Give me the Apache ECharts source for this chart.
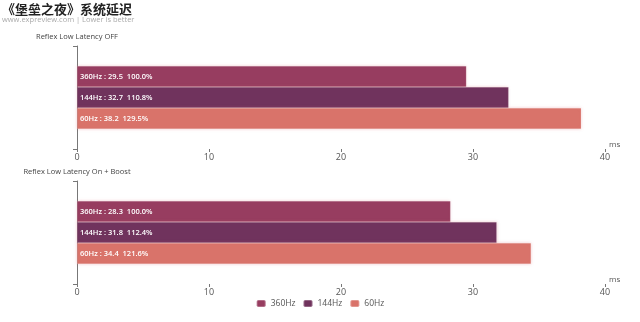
<!DOCTYPE html>
<html><head><meta charset="utf-8">
<script src="https://cdn.jsdelivr.net/npm/echarts@6/dist/echarts.min.js"></script>
<style>html,body{margin:0;padding:0;background:#fff}#c{width:640px;height:322px}</style>
</head><body><div id="c"></div>
<script>
const seriesNames = ['360Hz', '144Hz', '60Hz'];
const colors = ['#973d60', '#70335d', '#d9736a'];
const panelTitles = ['Reflex Low Latency OFF', 'Reflex Low Latency On + Boost'];
const valuesOff = [29.5, 32.7, 38.2];
const pctOff = ['100.0%', '110.8%', '129.5%'];
const valuesOn = [28.3, 31.8, 34.4];
const pctOn = ['100.0%', '112.4%', '121.6%'];
const xTicks = { min: 0, max: 40, interval: 10 };

const chart = echarts.init(document.getElementById('c'), null, { renderer: 'canvas' });
const font = "'Open Sans', 'Noto Sans CJK SC', sans-serif";
const panels = [[valuesOff, pctOff], [valuesOn, pctOn]];
const grids = [
  { left: 77, right: 35, top: 46, height: 103 },
  { left: 77, right: 35, top: 181, height: 103 }
];
const xAxes = grids.map((g, i) => ({
  type: 'value', gridIndex: i, min: xTicks.min, max: xTicks.max, interval: xTicks.interval,
  name: 'ms', nameGap: 4, nameTextStyle: { color: '#555', fontSize: 8, fontFamily: font, verticalAlign: 'bottom', padding: [0, 0, 0, 0] },
  axisLine: { lineStyle: { color: '#777', width: 1 } },
  axisTick: { show: true, length: 3, lineStyle: { color: '#777' } },
  axisLabel: { color: '#555', fontSize: 9, fontFamily: font, margin: 4 },
  splitLine: { show: false }
}));
const yAxes = grids.map((g, i) => ({
  type: 'category', gridIndex: i, data: [''], inverse: true,
  name: panelTitles[i], nameLocation: 'start', nameGap: 5,
  nameTextStyle: { color: '#444', fontSize: 7.5, fontFamily: font, align: 'center' },
  axisLine: { lineStyle: { color: '#777', width: 1 } },
  axisTick: { show: true, length: 4, lineStyle: { color: '#777' } },
  axisLabel: { show: false }
}));
const series = [];
panels.forEach(([vals, pcts], p) => {
  seriesNames.forEach((n, k) => {
    series.push({
      name: n, type: 'bar', xAxisIndex: p, yAxisIndex: p,
      data: [vals[k]], barWidth: 21, barGap: '0%',
      itemStyle: { color: colors[k], shadowColor: 'rgba(217,115,130,0.35)', shadowBlur: 3, borderColor: 'rgba(255,255,255,0.25)', borderWidth: 0.5 },
      label: {
        show: true, position: 'insideLeft', offset: [-2, 0], color: '#fff', fontSize: 7.5, fontWeight: 600, fontFamily: font,
        formatter: () => n + ' : ' + vals[k].toFixed(1) + '  ' + pcts[k]
      }
    });
  });
});
chart.setOption({
  animation: false,
  backgroundColor: '#fff',
  title: [
    { text: '《堡垒之夜》系统延迟', left: 2, top: 3, padding: 0, textStyle: { fontSize: 13, fontWeight: 'bold', color: '#222', fontFamily: "'Noto Sans CJK SC', sans-serif" } },
    { text: 'www.expreview.com | Lower is better', left: 2, top: 16, padding: 0, textStyle: { fontSize: 7.5, fontWeight: 'normal', color: '#aaa', fontFamily: font } }
  ],
  legend: {
    data: seriesNames, bottom: 9, left: 'center', itemWidth: 9, itemHeight: 7, itemGap: 7,
    textStyle: { fontSize: 8.5, color: '#555', fontFamily: font }, icon: 'roundRect'
  },
  grid: grids,
  xAxis: xAxes,
  yAxis: yAxes,
  series: series
});
</script></body></html>
